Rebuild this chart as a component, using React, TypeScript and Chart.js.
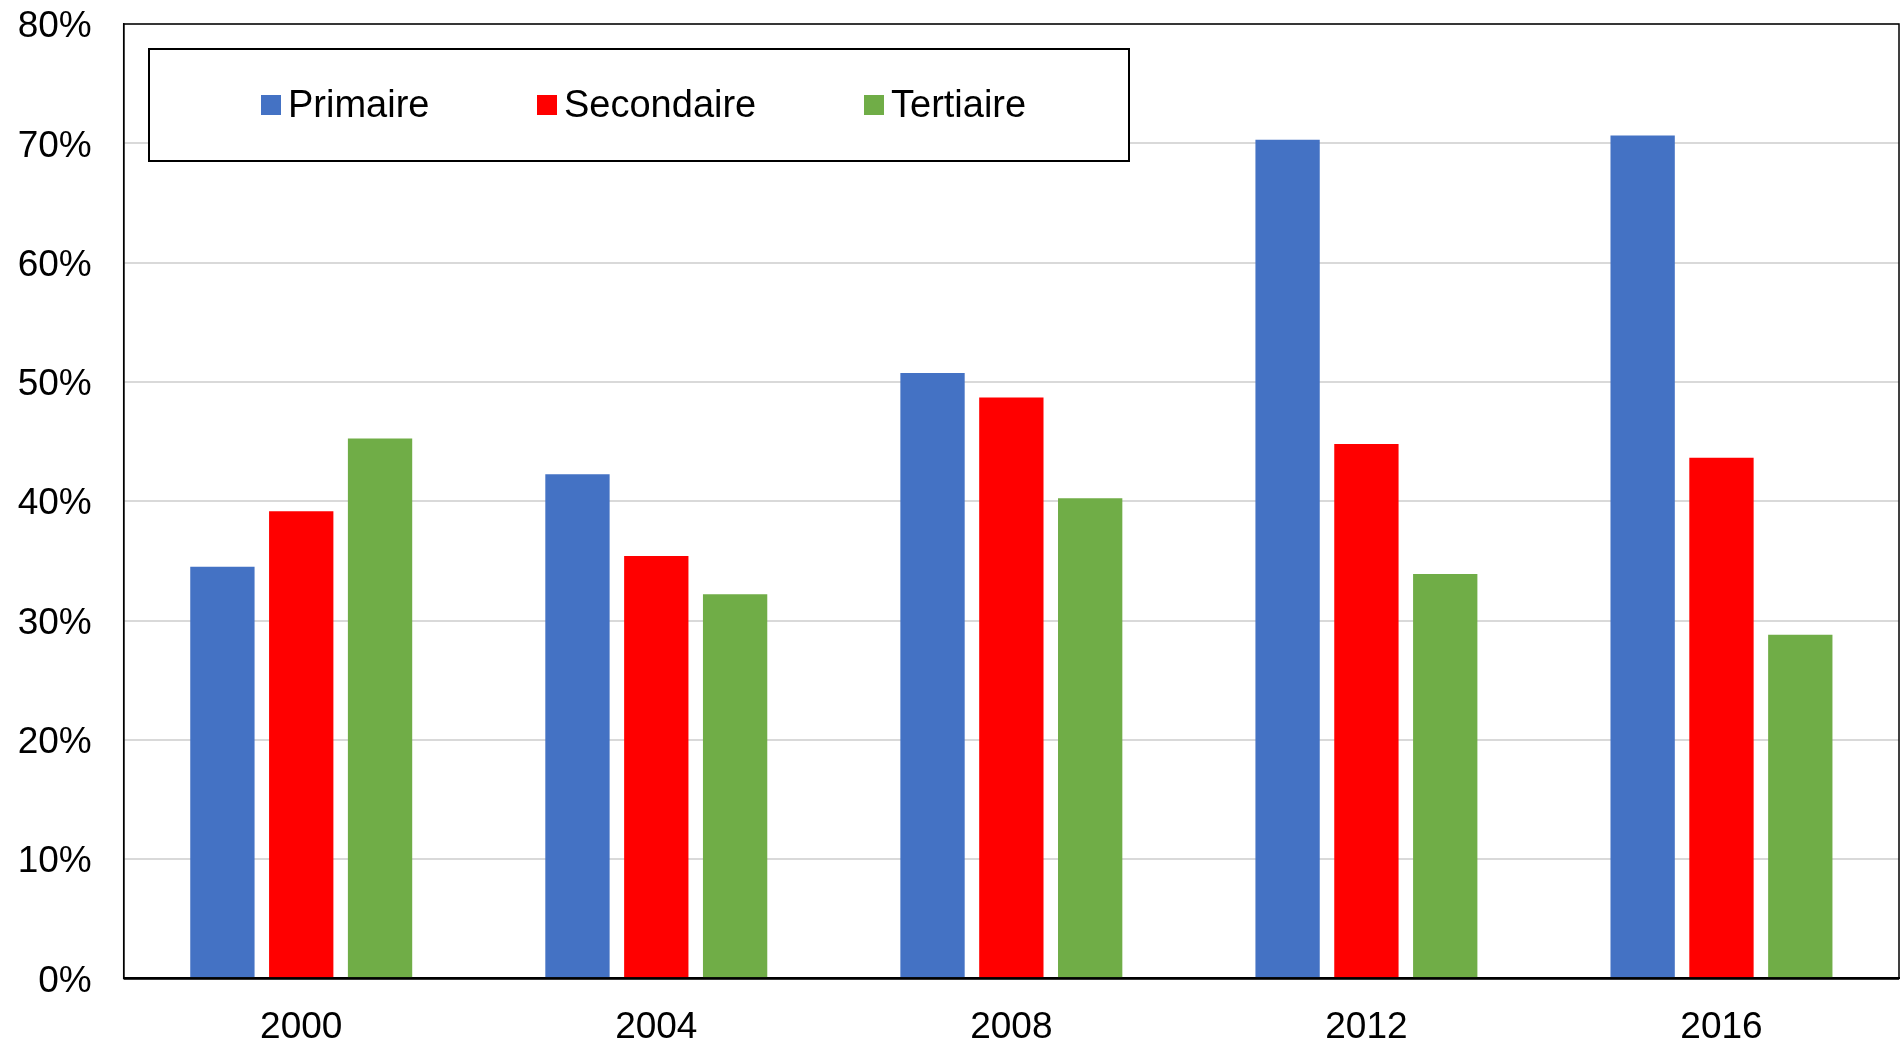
import React, { useEffect, useRef } from "react";
import { Chart, registerables } from "chart.js";

Chart.register(...registerables);

const categories = ["2000", "2004", "2008", "2012", "2016"];
const primaire = [34.5, 42.25, 50.75, 70.3, 70.65];
const secondaire = [39.15, 35.4, 48.7, 44.8, 43.65];
const tertiaire = [45.25, 32.2, 40.25, 33.9, 28.8];
const seriesLabels = ["Primaire", "Secondaire", "Tertiaire"];
const seriesColors = ["#4472C4", "#FF0000", "#70AD47"];
const yTicks = [0, 10, 20, 30, 40, 50, 60, 70, 80];

const FONT = "'Liberation Sans', Arial, sans-serif";
const FS = 37;
const LEGEND_FS = 38;

const framePlugin = {
  id: "frame",
  afterDraw(chart: any) {
    const { ctx, chartArea } = chart;
    ctx.save();
    ctx.strokeStyle = "#000";
    ctx.lineWidth = 1.5;
    ctx.strokeRect(chartArea.left, chartArea.top, chartArea.right - chartArea.left, chartArea.bottom - chartArea.top);
    ctx.lineWidth = 2.5;
    ctx.beginPath();
    ctx.moveTo(chartArea.left, chartArea.bottom);
    ctx.lineTo(chartArea.right, chartArea.bottom);
    ctx.stroke();

    // legend
    const bx = 149, by = 49, bw = 980, bh = 112;
    ctx.fillStyle = "#fff";
    ctx.fillRect(bx, by, bw, bh);
    ctx.lineWidth = 2;
    ctx.strokeStyle = "#000";
    ctx.strokeRect(bx, by, bw, bh);
    ctx.font = `${LEGEND_FS}px ${FONT}`;
    ctx.textBaseline = "middle";
    const xs = [261, 537, 864];
    chart.data.datasets.forEach((ds: any, i: number) => {
      const x = xs[i];
      const cy = 105;
      ctx.fillStyle = ds.backgroundColor;
      ctx.fillRect(x, cy - 10, 20, 20);
      ctx.fillStyle = "#000";
      ctx.textAlign = "left";
      ctx.fillText(ds.label, x + 27, cy + 2);
    });
    ctx.restore();
  },
};

export default function App() {
  const ref = useRef<HTMLCanvasElement>(null);
  useEffect(() => {
    if (!ref.current) return;
    const datasets = [primaire, secondaire, tertiaire].map((d, i) => ({
      label: seriesLabels[i],
      data: d,
      backgroundColor: seriesColors[i],
      borderWidth: 0,
      categoryPercentage: 0.666,
      barPercentage: 0.816,
    }));
    const chart = new Chart(ref.current, {
      type: "bar",
      data: { labels: categories, datasets },
      options: {
        animation: false,
        responsive: false,
        maintainAspectRatio: false,
        layout: { padding: { top: 24, right: 2, left: 0, bottom: 0 } },
        plugins: { legend: { display: false }, tooltip: { enabled: false } },
        scales: {
          x: {
            grid: { display: false },
            border: { display: true, color: "#000", width: 2 },
            ticks: { color: "#000", font: { family: FONT, size: FS }, padding: 19 },
            afterFit: (s: any) => { s.height = 62.6; s.paddingLeft = 0; s.paddingRight = 0; },
          },
          y: {
            min: 0,
            max: 80,
            afterBuildTicks: (s: any) => { s.ticks = yTicks.map((v) => ({ value: v })); },
            grid: { color: "#d9d9d9", lineWidth: 2, drawTicks: false },
            border: { display: true, color: "#000", width: 1.5 },
            ticks: {
              color: "#000",
              font: { family: FONT, size: FS },
              padding: 32,
              labelOffset: 3,
              callback: (v: any) => v + "%",
            },
            afterFit: (s: any) => { s.width = 123.7; s.paddingTop = 0; s.paddingBottom = 0; },
          },
        },
      },
      plugins: [framePlugin],
    });
    return () => chart.destroy();
  }, []);
  return (
    <div style={{ position: "fixed", left: 0, top: 0, width: 1901, height: 1041, background: "#fff" }}>
      <canvas ref={ref} width={1901} height={1041} style={{ width: 1901, height: 1041, display: "block" }} />
    </div>
  );
}
